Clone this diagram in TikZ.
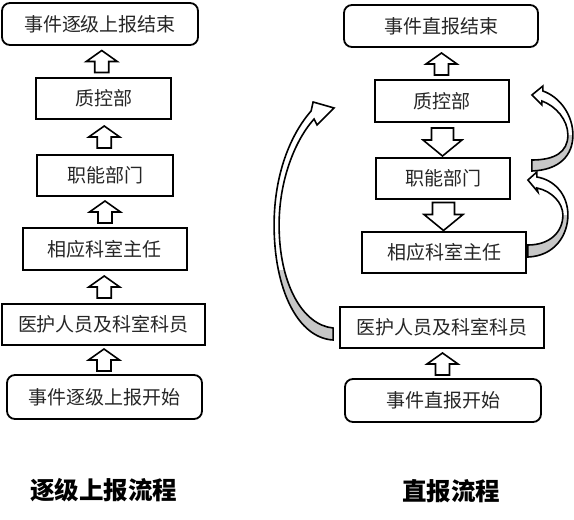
\documentclass[tikz,border=0pt]{standalone}
\usepackage{fontspec}
\setmainfont{Noto Sans CJK SC}
\usetikzlibrary{calc}
\tikzset{
  box/.style={draw, line width=1.8pt, fill=white, inner sep=0pt, text=black!85,
    font=\fontsize{19}{21}\selectfont},
  rbox/.style={box, rounded corners=8pt},
  blockarr/.style={draw, line width=1.6pt, fill=white, line join=miter},
  bandline/.style={draw, line width=1.6pt, line join=miter},
  bandgray/.style={fill=black!22},
  titletext/.style={font=\fontsize{24.5}{27}\selectfont\bfseries},
  uparr/.pic={\path[blockarr] (-7,11) -- (-7,0) -- (-15.5,0) -- (0,-11) -- (15.5,0) -- (7,0) -- (7,11) -- cycle;},
  downarr/.pic={\path[blockarr] (-11,-14) -- (-11,-2) -- (-19.5,-2) -- (0,14) -- (19.5,-2) -- (11,-2) -- (11,-14) -- cycle;}
}
\newcommand\bandL[1]{\path[#1] (-6,12.5) .. controls (-41,10.5) and (-65,-37.5) .. (-65,-102.5)
  .. controls (-65,-152.5) and (-49,-192.5) .. (-28,-216.5) -- (-26,-225.5) -- (-5,-219.5)
  -- (-22,-202.5) -- (-25,-208.5) .. controls (-44,-187.5) and (-60,-147.5) .. (-60,-102.5)
  .. controls (-60,-44.5) and (-37,-2.5) .. (-6,0.5) -- cycle;}
\newcommand\bandU[1]{\path[#1] (21,-7.5) .. controls (49,-8.5) and (62,-23.5) .. (62,-43.5)
  .. controls (62,-63.5) and (49,-81.5) .. (32,-87.5) -- (32,-92.5) -- (21,-83.5)
  -- (31,-73.5) -- (31,-77.5) .. controls (45,-72.5) and (57,-58.5) .. (57,-43.5)
  .. controls (57,-26.5) and (44,-18.5) .. (21,-18.5) -- cycle;}
\newcommand\bandD[1]{\path[#1] (1,4.5) .. controls (28,3.5) and (41,-17.5) .. (41,-37.5)
  .. controls (41,-57.5) and (28,-72.5) .. (10,-75.5) -- (10,-80.5) -- (1,-72.5)
  -- (11,-60.5) -- (10,-64.5) .. controls (25,-61.5) and (36,-49.5) .. (36,-37.5)
  .. controls (36,-20.5) and (23,-7.5) .. (1,-7.5) -- cycle;}
\begin{document}
\begin{tikzpicture}[x=1pt,y=-1pt]
\useasboundingbox (0,0) rectangle (574,520);
% left column
\node[rbox, minimum width=196pt, minimum height=42pt] (L1) at (100,24) {事件逐级上报结束};
\node[box, minimum width=135pt, minimum height=41pt] (L2) at (103.5,98.5) {质控部};
\node[box, minimum width=136pt, minimum height=41pt] (L3) at (105,175.5) {职能部门};
\node[box, minimum width=164pt, minimum height=42pt] (L4) at (105,249) {相应科室主任};
\node[box, minimum width=203pt, minimum height=41pt] (L5) at (103.5,324.5) {医护人员及科室科员};
\node[rbox, minimum width=195pt, minimum height=44pt] (L6) at (104.5,397) {事件逐级上报开始};
\pic at ($(L1.south)!.5!(L2.north)$) {uparr};
\pic at ($(L2.south)!.5!(L3.north)$) {uparr};
\pic at ($(L3.south)!.5!(L4.north)$) {uparr};
\pic at ($(L4.south)!.5!(L5.north)$) {uparr};
\pic at ($(L5.south)!.5!(L6.north)$) {uparr};
\node[titletext] (T1) at (104,490) {逐级上报流程};
% right column
\node[rbox, minimum width=194pt, minimum height=42pt] (R1) at (441,26) {事件直报结束};
\node[box, minimum width=134pt, minimum height=42pt] (R2) at (442,101) {质控部};
\node[box, minimum width=134pt, minimum height=41pt] (R3) at (443,178.5) {职能部门};
\node[box, minimum width=164pt, minimum height=41pt] (R4) at (444,252.5) {相应科室主任};
\node[box, minimum width=204pt, minimum height=41pt] (R5) at (442,327.5) {医护人员及科室科员};
\node[rbox, minimum width=196pt, minimum height=43pt] (R6) at (443,400.5) {事件直报开始};
\pic at ($(R2.north)!.5!(R1.south)+(0,0.5)$) {uparr};
\pic at ($(R2.south)!.5!(R3.north)+(0,2)$) {downarr};
\pic at ($(R3.south)!.5!(R4.north)+(0,1)$) {downarr};
\pic at ($(R6.north)!.5!(R5.south)+(0,0.5)$) {uparr};
\node[titletext] (T2) at (451,491) {直报流程};
% curved arrows
\begin{scope}[shift={(R5.west)}]
  \bandL{fill=white}
  \begin{scope}\bandL{clip}\fill[bandgray] (-80,-58) rectangle (5,20);\end{scope}
  \bandL{bandline}
\end{scope}
\begin{scope}[shift={(R3.east)}]
  \bandU{fill=white}
  \begin{scope}\bandU{clip}\fill[bandgray] (0,-43.5) rectangle (70,0);\end{scope}
  \bandU{bandline}
\end{scope}
\begin{scope}[shift={(R4.east)}]
  \bandD{fill=white}
  \begin{scope}\bandD{clip}\fill[bandgray] (-5,-37.5) rectangle (50,10);\end{scope}
  \bandD{bandline}
\end{scope}
\end{tikzpicture}
\end{document}
